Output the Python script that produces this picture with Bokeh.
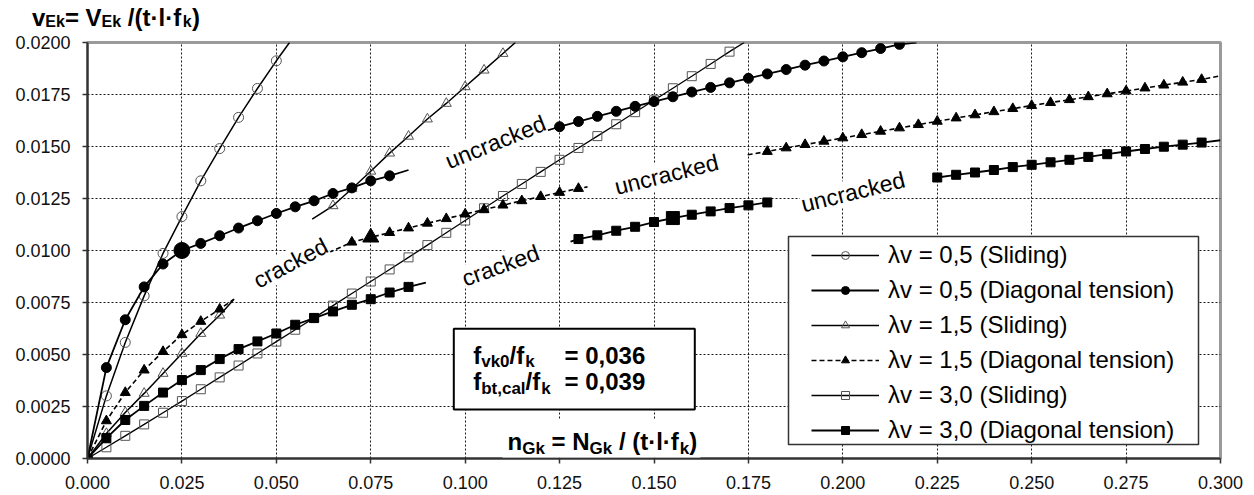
import math
from bokeh.plotting import figure
from bokeh.layouts import column
from bokeh.models import (Range1d, FixedTicker, Label, BoxAnnotation, Legend, LegendItem)
from bokeh.embed import file_html
from bokeh.resources import INLINE

# ---------------- data ----------------
x_ticks = [0.000, 0.025, 0.050, 0.075, 0.100, 0.125, 0.150, 0.175, 0.200, 0.225, 0.250, 0.275, 0.300]
x_tick_labels = ["0.000", "0.025", "0.050", "0.075", "0.100", "0.125", "0.150", "0.175",
                 "0.200", "0.225", "0.250", "0.275", "0.300"]
y_ticks = [0.0, 0.0025, 0.005, 0.0075, 0.010, 0.0125, 0.015, 0.0175, 0.020]
y_tick_labels = ["0.0000", "0.0025", "0.0050", "0.0075", "0.0100", "0.0125", "0.0150", "0.0175", "0.0200"]

series_names = ["λv = 0,5 (Sliding)", "λv = 0,5 (Diagonal tension)", "λv = 1,5 (Sliding)",
                "λv = 1,5 (Diagonal tension)", "λv = 3,0 (Sliding)", "λv = 3,0 (Diagonal tension)"]

# λv = 0,5 sliding (open circles)
a_x = [0.000, 0.005, 0.010, 0.015, 0.020, 0.025, 0.030, 0.035, 0.040, 0.045, 0.050]
a_y = [0.0, 0.00301, 0.00558, 0.00782, 0.00986, 0.01163, 0.01335, 0.01490, 0.01640, 0.01779, 0.01912]
a_end = (0.0535, 0.0200)

# λv = 0,5 diagonal tension (filled circles): cracked / uncracked
b1_x = [0.000, 0.005, 0.010, 0.015, 0.020, 0.025, 0.030, 0.035, 0.040, 0.045, 0.050,
        0.055, 0.060, 0.065, 0.070, 0.075, 0.080]
b1_y = [0.0, 0.00437, 0.00667, 0.00825, 0.00935, 0.01000, 0.01034, 0.01071, 0.01108, 0.01143,
        0.01178, 0.01210, 0.01239, 0.01274, 0.01301, 0.01335, 0.01359]
b1_end = (0.085, 0.01387)
b2_x = [0.125, 0.130, 0.135, 0.140, 0.145, 0.150, 0.155, 0.160, 0.165, 0.170, 0.175, 0.180,
        0.185, 0.190, 0.195, 0.200, 0.205, 0.210, 0.215]
b2_y = [0.01595, 0.01620, 0.01645, 0.01669, 0.01693, 0.01716, 0.01739, 0.01762, 0.01784, 0.01806,
        0.01828, 0.01849, 0.01870, 0.01891, 0.01911, 0.01931, 0.01951, 0.01971, 0.01991]
b2_start = (0.1205, 0.0157)
b2_end = (0.2195, 0.0200)

# λv = 1,5 sliding (open triangles)
c1_x = [0.000, 0.005, 0.010, 0.015, 0.020, 0.025, 0.030, 0.035]
c1_y = [0.0, 0.00120, 0.00221, 0.00313, 0.00409, 0.00505, 0.00601, 0.00689]
c1_end = (0.0388, 0.00766)
c2_x = [0.065, 0.070, 0.075, 0.080, 0.085, 0.090, 0.095, 0.100, 0.105, 0.110]
c2_y = [0.01215, 0.01297, 0.01381, 0.01468, 0.01549, 0.01632, 0.01707, 0.01787, 0.01867, 0.01947]
c2_start = (0.0595, 0.01151)
c2_end = (0.1133, 0.0200)

# λv = 1,5 diagonal tension (filled triangles, dashed)
d1_x = [0.000, 0.005, 0.010, 0.015, 0.020, 0.025, 0.030, 0.035]
d1_y = [0.0, 0.00181, 0.00317, 0.00425, 0.00514, 0.00595, 0.00659, 0.00718]
d1_end = (0.0388, 0.00766)
d2_x = [0.070, 0.075, 0.080, 0.085, 0.090, 0.095, 0.100, 0.105, 0.110, 0.115, 0.120, 0.125, 0.130]
d2_y = [0.01040, 0.01063, 0.01086, 0.01108, 0.01131, 0.01153, 0.01175, 0.01197, 0.01218, 0.01239,
        0.01259, 0.01279, 0.01298]
d2_start = (0.0639, 0.0099)
d2_end = (0.1324, 0.01306)
d3_x = [0.180, 0.185, 0.190, 0.195, 0.200, 0.205, 0.210, 0.215, 0.220, 0.225, 0.230, 0.235,
        0.240, 0.245, 0.250, 0.255, 0.260, 0.265, 0.270, 0.275, 0.280, 0.285, 0.290, 0.295]
d3_y = [0.01476, 0.01493, 0.01509, 0.01525, 0.01541, 0.01557, 0.01573, 0.01589, 0.01605, 0.01621,
        0.01637, 0.01652, 0.01667, 0.01682, 0.01697, 0.01711, 0.01725, 0.01739, 0.01753, 0.01767,
        0.01781, 0.01795, 0.01809, 0.01822]
d3_start = (0.1748, 0.0146)
d3_end = (0.300, 0.0184)

# λv = 3,0 sliding (open squares)
e_x = [0.000, 0.005, 0.010, 0.015, 0.020, 0.025, 0.030, 0.035, 0.040, 0.045, 0.050, 0.055,
       0.060, 0.065, 0.070, 0.075, 0.080, 0.085, 0.090, 0.095, 0.100, 0.105, 0.110, 0.115,
       0.120, 0.125, 0.130, 0.135, 0.140, 0.145, 0.150, 0.155, 0.160, 0.165, 0.170]
e_y = [0.0, 0.00054, 0.00109, 0.00164, 0.00220, 0.00276, 0.00333, 0.00390, 0.00447, 0.00505,
       0.00562, 0.00619, 0.00676, 0.00735, 0.00793, 0.00851, 0.00909, 0.00967, 0.01026, 0.01085,
       0.01144, 0.01203, 0.01262, 0.01320, 0.01378, 0.01436, 0.01493, 0.01550, 0.01607, 0.01665,
       0.01722, 0.01780, 0.01838, 0.01897, 0.01956]
e_end = (0.1739, 0.0200)

# λv = 3,0 diagonal tension (filled squares)
f1_x = [0.000, 0.005, 0.010, 0.015, 0.020, 0.025, 0.030, 0.035, 0.040, 0.045, 0.050, 0.055,
        0.060, 0.065, 0.070, 0.075, 0.080, 0.085]
f1_y = [0.0, 0.00098, 0.00185, 0.00253, 0.00317, 0.00377, 0.00425, 0.00478, 0.00526, 0.00563,
        0.00601, 0.00643, 0.00675, 0.00707, 0.00739, 0.00766, 0.00798, 0.00825]
f1_end = (0.0896, 0.00846)
f2_x = [0.130, 0.135, 0.140, 0.145, 0.150, 0.155, 0.160, 0.165, 0.170, 0.175, 0.180]
f2_y = [0.01055, 0.01073, 0.01095, 0.01114, 0.01137, 0.01156, 0.01172, 0.01188, 0.01204, 0.01217, 0.01231]
f2_start = (0.1279, 0.01043)
f3_x = [0.225, 0.230, 0.235, 0.240, 0.245, 0.250, 0.255, 0.260, 0.265, 0.270, 0.275, 0.280,
        0.285, 0.290, 0.295]
f3_y = [0.01351, 0.01364, 0.01375, 0.01387, 0.01401, 0.01412, 0.01424, 0.01436, 0.01450, 0.01463,
        0.01476, 0.01488, 0.01499, 0.01509, 0.01519]
f3_end = (0.300, 0.0153)

# highlighted points
big_circle = (0.025, 0.0100)
big_triangle = (0.075, 0.01063)
big_square = (0.155, 0.01156)

# ---------------- layout constants (page pixels) ----------------
W, H = 1254, 495
TOP_H = 31                      # strip holding the y-quantity title
FL, FT, FW, FH = 87, 42, 1133, 416
FB = FT + FH
X1, Y1 = 0.3, 0.02
FONT = "Liberation Sans"


def xd(px):
    return (px - FL) / FW * X1


def yd(py):
    return (FB - py) / FH * Y1


p = figure(width=W, height=H - TOP_H, output_backend="svg", toolbar_location=None,
           x_range=Range1d(0, X1), y_range=Range1d(0, Y1),
           min_border_left=FL, min_border_right=W - FL - FW,
           min_border_top=FT - TOP_H, min_border_bottom=H - FB)
p.frame_align = False
p.background_fill_color = "white"
p.border_fill_color = "white"
p.outline_line_color = "#9a9a9a"
p.outline_line_width = 3

for ax, ticks, labels in ((p.xaxis, x_ticks, x_tick_labels), (p.yaxis, y_ticks, y_tick_labels)):
    ax.ticker = FixedTicker(ticks=ticks)
    ax.major_label_overrides = {t: l for t, l in zip(ticks, labels)}
    ax.axis_line_color = "#333333"
    ax.axis_line_width = 2
    ax.major_tick_line_color = "#333333"
    ax.major_tick_line_width = 1.5
    ax.major_tick_out = 5
    ax.major_tick_in = 0
    ax.minor_tick_line_color = None
    ax.major_label_text_font = FONT
    ax.major_label_text_font_size = "18px"
    ax.major_label_text_color = "#111111"
p.yaxis.major_label_standoff = 12
p.xaxis.major_label_standoff = 12

for g in (p.xgrid, p.ygrid):
    g.grid_line_color = "#000000"
    g.grid_line_dash = "2 2"
    g.grid_line_width = 1
    g.grid_line_alpha = 0.9


def seg(xs, ys, start=None, end=None):
    lx, ly = list(xs), list(ys)
    if start:
        lx.insert(0, start[0]); ly.insert(0, start[1])
    if end:
        lx.append(end[0]); ly.append(end[1])
    return lx, ly


OPEN = "#555555"

# λv = 0,5 sliding
lx, ly = seg(a_x, a_y, end=a_end)
rA_l = p.line(lx, ly, line_color="black", line_width=1.5)
rA_m = p.scatter(a_x, a_y, marker="circle", size=10, fill_color=None, line_color=OPEN, line_width=1)

# λv = 1,5 sliding
lx, ly = seg(c1_x, c1_y, end=c1_end)
rC_l = p.line(lx, ly, line_color="black", line_width=1.5)
rC_m = p.scatter(c1_x, c1_y, marker="triangle", size=10, fill_color=None, line_color=OPEN, line_width=1)
lx, ly = seg(c2_x, c2_y, start=c2_start, end=c2_end)
p.line(lx, ly, line_color="black", line_width=1.5)
p.scatter(c2_x, c2_y, marker="triangle", size=10, fill_color=None, line_color=OPEN, line_width=1)

# λv = 3,0 sliding
lx, ly = seg(e_x, e_y, end=e_end)
rE_l = p.line(lx, ly, line_color="black", line_width=1.3)
rE_m = p.scatter(e_x, e_y, marker="square", size=9, fill_color=None, line_color=OPEN, line_width=1)

# λv = 0,5 diagonal tension
lx, ly = seg(b1_x, b1_y, end=b1_end)
rB_l = p.line(lx, ly, line_color="black", line_width=1.8)
rB_m = p.scatter(b1_x, b1_y, marker="circle", size=10, fill_color="black", line_color="black")
lx, ly = seg(b2_x, b2_y, start=b2_start, end=b2_end)
p.line(lx, ly, line_color="black", line_width=1.8)
p.scatter(b2_x, b2_y, marker="circle", size=10, fill_color="black", line_color="black")

# λv = 1,5 diagonal tension (dashed)
DASH = "5 3"
lx, ly = seg(d1_x, d1_y, end=d1_end)
rD_l = p.line(lx, ly, line_color="black", line_width=1.6, line_dash=DASH)
rD_m = p.scatter(d1_x, d1_y, marker="triangle", size=10, fill_color="black", line_color="black")
lx, ly = seg(d2_x, d2_y, start=d2_start, end=d2_end)
p.line(lx, ly, line_color="black", line_width=1.6, line_dash=DASH)
p.scatter(d2_x, d2_y, marker="triangle", size=10, fill_color="black", line_color="black")
lx, ly = seg(d3_x, d3_y, start=d3_start, end=d3_end)
p.line(lx, ly, line_color="black", line_width=1.6, line_dash=DASH)
p.scatter(d3_x, d3_y, marker="triangle", size=10, fill_color="black", line_color="black")

# λv = 3,0 diagonal tension
lx, ly = seg(f1_x, f1_y, end=f1_end)
rF_l = p.line(lx, ly, line_color="black", line_width=1.8)
rF_m = p.scatter(f1_x, f1_y, marker="square", size=9, fill_color="black", line_color="black")
lx, ly = seg(f2_x, f2_y, start=f2_start)
p.line(lx, ly, line_color="black", line_width=1.8)
p.scatter(f2_x, f2_y, marker="square", size=9, fill_color="black", line_color="black")
lx, ly = seg(f3_x, f3_y, end=f3_end)
p.line(lx, ly, line_color="black", line_width=1.8)
p.scatter(f3_x, f3_y, marker="square", size=9, fill_color="black", line_color="black")

# highlighted points
p.scatter([big_circle[0]], [big_circle[1]], marker="circle", size=16, fill_color="black", line_color="black")
p.scatter([big_triangle[0]], [big_triangle[1]], marker="triangle", size=16, fill_color="black", line_color="black")
p.scatter([big_square[0]], [big_square[1]], marker="square", size=13, fill_color="black", line_color="black")

# ---------------- region labels ----------------
region_labels = [("uncracked", 495, 141.5, 22), ("cracked", 290, 262.5, 28),
                 ("uncracked", 666, 174, 14), ("cracked", 500, 265, 20),
                 ("uncracked", 852.5, 191.5, 14)]
for txt, cx, cy, ang in region_labels:
    p.add_layout(Label(x=xd(cx), y=yd(cy), text=txt, angle=math.radians(ang),
                       text_align="center", text_baseline="middle", text_font=FONT,
                       text_font_size="23px", text_color="black",
                       background_fill_color="white", background_fill_alpha=1.0))

# ---------------- boxes ----------------
p.add_layout(BoxAnnotation(left=xd(453.3), right=xd(694.3), top=yd(328.3), bottom=yd(409),
                           fill_color="white", fill_alpha=1.0, line_color="black",
                           line_alpha=1.0, line_width=2))
p.add_layout(BoxAnnotation(left=xd(788), right=xd(1198), top=yd(236), bottom=yd(444),
                           fill_color="white", fill_alpha=1.0, line_color="#333333",
                           line_alpha=1.0, line_width=1.5))
# white backing of the x-quantity title
p.add_layout(BoxAnnotation(left=xd(502), right=xd(700), top=yd(419), bottom=yd(457),
                           fill_color="white", fill_alpha=1.0, line_alpha=0))

legend = Legend(items=[
    LegendItem(label=series_names[0], renderers=[rA_l, rA_m]),
    LegendItem(label=series_names[1], renderers=[rB_l, rB_m]),
    LegendItem(label=series_names[2], renderers=[rC_l, rC_m]),
    LegendItem(label=series_names[3], renderers=[rD_l, rD_m]),
    LegendItem(label=series_names[4], renderers=[rE_l, rE_m]),
    LegendItem(label=series_names[5], renderers=[rF_l, rF_m]),
], location=(724, 11), padding=0, spacing=0, margin=0, label_height=35, glyph_height=20,
    glyph_width=68, label_standoff=9, label_text_font=FONT, label_text_font_size="24px",
    label_text_color="black", border_line_alpha=0, background_fill_alpha=0)
p.add_layout(legend)

# ---------------- composed bold texts with subscripts ----------------
BW = {' ': 278, '(': 333, ')': 333, ',': 278, '.': 278, '/': 278, '=': 584, '·': 333,
      'a': 556, 'b': 611, 'c': 556, 'd': 611, 'e': 556, 'f': 333, 'k': 556, 'l': 278,
      'n': 611, 't': 333, 'v': 556, 'E': 667, 'G': 778, 'N': 722, 'V': 667}


def tw(s, size):
    return sum(BW.get(ch, 556) for ch in s) * size / 1000.0


def add_seq(fig, conv_x, conv_y, pieces, x0, base):
    x = x0
    for text, size, dy, gap in pieces:
        x += gap
        lead = len(text) - len(text.lstrip(' '))
        x += tw(' ' * lead, size)
        body = text.strip(' ')
        fig.add_layout(Label(x=conv_x(x), y=conv_y(base + dy - 0.36 * size), text=body,
                             text_font=FONT, text_font_style="bold",
                             text_font_size=f"{size}px", text_baseline="middle",
                             text_align="left", text_color="black"))
        x += tw(text[lead:], size)


M = 24
add_seq(p, xd, yd, [("n", M, 0, 0), ("Gk", 17, 5, 0), (" = N", M, 0, 0), ("Gk", 17, 5, 0),
                    (" / (t·l·f", M, 0, 0), ("k", 17, 5, 1), (")", M, 0, 0)], 507, 449.5)
add_seq(p, xd, yd, [("f", M, 0, 0), ("vk0", 17, 4, 0), ("/f", M, 0, 0), ("k", 17, 4, 1)], 472.7, 363.3)
add_seq(p, xd, yd, [("= 0,036", M, 0, 0)], 564, 363.3)
add_seq(p, xd, yd, [("f", M, 0, 0), ("bt,cal", 17, 4, 0), ("/f", M, 0, 0), ("k", 17, 4, 1)], 472.7, 390)
add_seq(p, xd, yd, [("= 0,039", M, 0, 0)], 564, 390)

# ---------------- top strip with the y-quantity title ----------------
t = figure(width=W, height=TOP_H, output_backend="svg", toolbar_location=None,
           x_range=Range1d(0, W), y_range=Range1d(TOP_H, 0),
           x_axis_type=None, y_axis_type=None, min_border=0)
t.frame_align = False
t.outline_line_color = None
t.grid.visible = False
t.background_fill_color = "white"
t.border_fill_color = "white"
ident = lambda v: v
add_seq(t, ident, ident, [("v", M, 0, 0), ("Ek", 16, 1.5, 0), ("= V", M, 0, 0), ("Ek", 16, 1.5, 0),
                          (" /(t·l·f", M, 0, 0), ("k", 16, 1.5, 1.5), (")", M, 0, 0.5)], 31.5, 25.5)

layout = column(t, p, spacing=0)
open("out.html", "w").write(file_html(layout, INLINE))
